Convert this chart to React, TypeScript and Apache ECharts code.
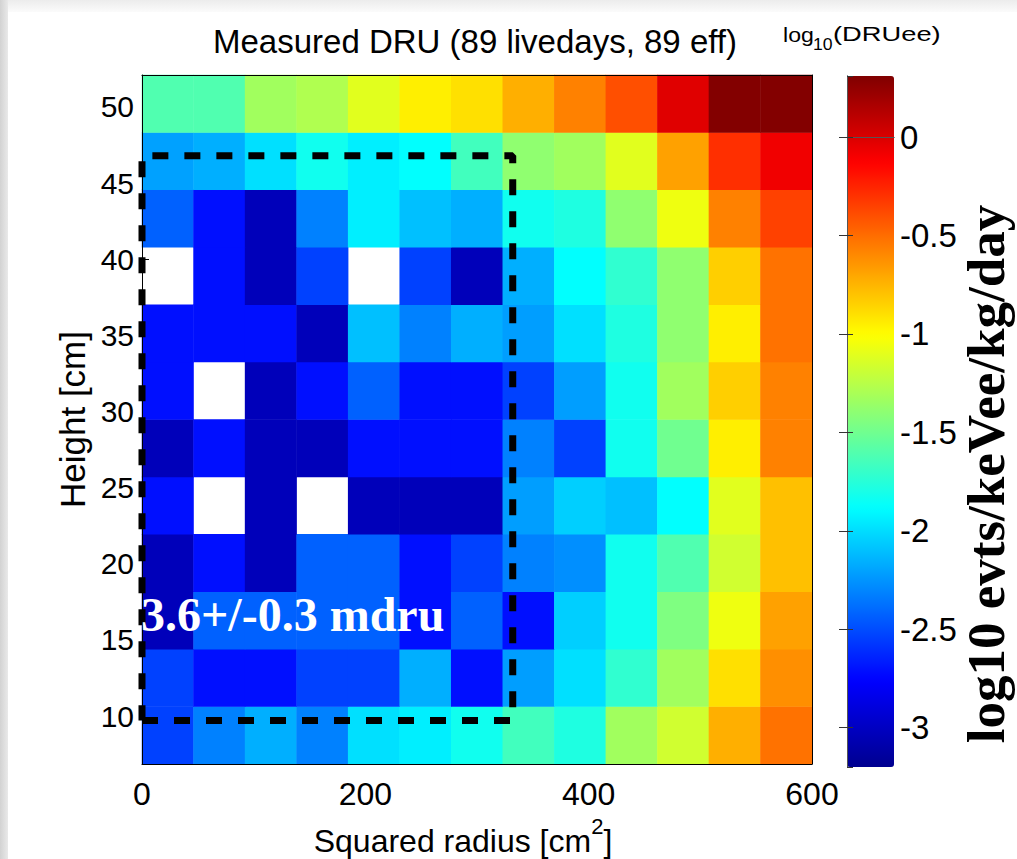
import React, { useEffect, useRef } from "react";
import * as echarts from "echarts";

// bin centres (squared radius, cm^2) and heights (cm)
const radiusBins = ["23", "69", "115", "162", "208", "254", "300", "346", "392", "438", "485", "531", "577"];
const heightBins = ["8.7", "12.5", "16.3", "20.0", "23.8", "27.6", "31.4", "35.1", "38.9", "42.7", "46.5", "50.2"];

// log10 DRU per bin, one array per height row (null = no events)
const z50_2 = [-1.61, -1.61, -1.33, -1.28, -1.11, -0.95, -0.9, -0.73, -0.57, -0.4, -0.02, 0.3, 0.3];
const z46_5 = [-2.21, -2.16, -1.99, -1.83, -1.94, -1.88, -1.66, -1.39, -1.33, -1.11, -0.68, -0.29, -0.08];
const z42_7 = [-2.43, -2.71, -3.03, -2.32, -1.94, -2.1, -2.16, -1.83, -1.78, -1.39, -1.06, -0.57, -0.35];
const z38_9 = [null, -2.71, -3.03, -2.54, null, -2.54, -3.03, -2.16, -1.88, -1.72, -1.39, -0.84, -0.52];
const z35_1 = [-2.71, -2.71, -2.71, -3.03, -2.1, -2.32, -2.16, -2.22, -1.99, -1.78, -1.39, -0.95, -0.52];
const z31_4 = [-2.71, null, -3.03, -2.71, -2.43, -2.71, -2.71, -2.54, -2.22, -1.83, -1.33, -0.84, -0.57];
const z27_6 = [-3.03, -2.71, -3.03, -3.03, -2.71, -2.71, -2.71, -2.32, -2.54, -1.83, -1.5, -0.95, -0.57];
const z23_8 = [-2.71, null, -3.03, null, -3.03, -3.03, -3.03, -2.22, -2.05, -2.1, -1.88, -1.11, -0.79];
const z20_0 = [-3.03, -2.71, -3.03, -2.43, -2.43, -2.71, -2.54, -2.32, -2.27, -1.83, -1.61, -1.17, -0.79];
const z16_3 = [-3.03, -2.43, -2.43, -2.43, -2.43, -2.71, -2.43, -2.71, -2.05, -1.83, -1.45, -1.06, -0.68];
const z12_5 = [-2.54, -2.71, -2.71, -2.54, -2.54, -2.16, -2.71, -2.22, -1.99, -1.72, -1.33, -0.9, -0.62];
const z8_7 = [-2.54, -2.32, -2.16, -2.32, -1.99, -1.94, -1.83, -1.66, -1.78, -1.33, -1.17, -0.73, -0.52];

// rows from bottom to top, matching heightBins
const rows = [z8_7, z12_5, z16_3, z20_0, z23_8, z27_6, z31_4, z35_1, z38_9, z42_7, z46_5, z50_2];

// fiducial cut box (squared radius, height)
const cutR2 = [0, 332];
const cutZ = [9.7, 46.8];

// axis ranges
const r2Range = [0, 600];
const zRange = [6.85, 52.1];
const cbarRange = [-3.2, 0.31];

const jet = ["#00008f", "#0000ff", "#0080ff", "#00ffff", "#80ff80", "#ffff00", "#ff8000", "#ff0000", "#800000"];

const SANS = '"Liberation Sans", Arial, Helvetica, sans-serif';
const SERIF = '"Liberation Serif", "Times New Roman", serif';

export default function App() {
  const ref = useRef<HTMLDivElement>(null);

  useEffect(() => {
    if (!ref.current) return;
    const chart = echarts.init(ref.current, undefined, { renderer: "svg" });

    const heatData: any[] = [];
    rows.forEach((row, yi) => {
      row.forEach((v, xi) => {
        heatData.push([xi, yi, v === null ? "-" : v]);
      });
    });

    const box = [
      [cutR2[0], cutZ[0]],
      [cutR2[1], cutZ[0]],
      [cutR2[1], cutZ[1]],
      [cutR2[0], cutZ[1]],
      [cutR2[0], cutZ[0]],
    ];

    const lineOnly = (extra: any) => ({
      type: "value",
      axisLine: { show: true, lineStyle: { color: "#000", width: 1 } },
      axisTick: { show: false },
      axisLabel: { show: false },
      splitLine: { show: false },
      z: 10,
      ...extra,
    });

    const option: any = {
      animation: false,
      backgroundColor: "transparent",
      textStyle: { fontFamily: SANS },
      grid: [
        { left: 142, top: 75, width: 670, height: 689, outerBoundsMode: "none", containLabel: false },
        { left: 847, top: 76, width: 47, height: 691, outerBoundsMode: "none", containLabel: false },
      ],
      xAxis: [
        { type: "category", gridIndex: 0, data: radiusBins, show: false },
        {
          type: "value",
          gridIndex: 0,
          min: r2Range[0],
          max: r2Range[1],
          interval: 200,
          position: "bottom",
          axisLine: { show: true, lineStyle: { color: "#000" } },
          axisTick: { show: false },
          splitLine: { show: false },
          axisLabel: { fontSize: 32, color: "#000", margin: 14, fontFamily: SANS },
          z: 10,
        },
        lineOnly({ gridIndex: 0, position: "top", min: r2Range[0], max: r2Range[1] }),
        lineOnly({ gridIndex: 1, position: "bottom", min: 0, max: 1, axisLine: { show: true, lineStyle: { color: "#555" } } }),
        lineOnly({ gridIndex: 1, position: "top", min: 0, max: 1, axisLine: { show: true, lineStyle: { color: "#555" } } }),
      ],
      yAxis: [
        { type: "category", gridIndex: 0, data: heightBins, show: false },
        {
          type: "value",
          gridIndex: 0,
          min: zRange[0],
          max: zRange[1],
          minInterval: 5,
          maxInterval: 5,
          position: "left",
          axisLine: { show: false },
          axisTick: { show: true, inside: true, length: 7, lineStyle: { color: "#000" } },
          splitLine: { show: false },
          axisLabel: { fontSize: 30, color: "#000", margin: 8, fontFamily: SANS, showMinLabel: false, showMaxLabel: false },
          name: "Height [cm]",
          nameLocation: "middle",
          nameRotate: 90,
          nameGap: 52,
          nameTextStyle: { fontSize: 35, color: "#000", fontFamily: SANS },
        },
        lineOnly({ gridIndex: 0, position: "left", min: zRange[0], max: zRange[1] }),
        lineOnly({ gridIndex: 0, position: "right", min: zRange[0], max: zRange[1] }),
        {
          type: "value",
          gridIndex: 1,
          position: "left",
          min: cbarRange[0],
          max: cbarRange[1],
          minInterval: 0.5,
          maxInterval: 0.5,
          axisLine: { show: true, lineStyle: { color: "#555" } },
          axisTick: { show: true, inside: true, length: 6, lineStyle: { color: "#333" } },
          axisLabel: { show: false },
          splitLine: { show: false },
          z: 10,
        },
        {
          type: "value",
          gridIndex: 1,
          position: "right",
          min: cbarRange[0],
          max: cbarRange[1],
          minInterval: 0.5,
          maxInterval: 0.5,
          axisLine: { show: true, lineStyle: { color: "#555" } },
          axisTick: { show: true, inside: true, length: 8, lineStyle: { color: "#333" } },
          axisLabel: { fontSize: 33, color: "#000", margin: 6, fontFamily: SANS, showMinLabel: false, showMaxLabel: false },
          splitLine: { show: false },
          z: 10,
        },
      ],
      visualMap: {
        type: "continuous",
        seriesIndex: 0,
        min: cbarRange[0],
        max: cbarRange[1],
        orient: "vertical",
        left: 847,
        top: 76,
        itemWidth: 47,
        itemHeight: 691,
        padding: 0,
        calculable: false,
        hoverLink: false,
        inRange: { color: jet },
      },
      series: [
        {
          type: "heatmap",
          xAxisIndex: 0,
          yAxisIndex: 0,
          data: heatData,
          progressive: 0,
          itemStyle: { borderWidth: 0 },
          emphasis: { disabled: true },
          silent: true,
        },
        {
          type: "line",
          xAxisIndex: 1,
          yAxisIndex: 1,
          data: box,
          symbol: "none",
          clip: false,
          silent: true,
          z: 5,
          lineStyle: { color: "#000", width: 7, type: [16, 16], cap: "butt" },
        },
      ],
      graphic: [
        {
          type: "text",
          z: 100,
          style: {
            text: "Measured DRU (89 livedays, 89 eff)",
            x: 475,
            y: 41,
            align: "center",
            verticalAlign: "middle",
            font: `33px ${SANS}`,
            fill: "#000",
          },
        },
        {
          type: "text",
          z: 100,
          style: {
            text: "{a|Squared radius [cm}{s|2}{a|]}",
            x: 463,
            y: 836,
            align: "center",
            verticalAlign: "middle",
            rich: {
              a: { fontSize: 32, fill: "#000", fontFamily: SANS, lineHeight: 42, verticalAlign: "bottom" },
              s: { fontSize: 22, fill: "#000", fontFamily: SANS, lineHeight: 18, verticalAlign: "top" },
            },
          },
        },
        {
          type: "text",
          z: 100,
          x: 783,
          y: 35,
          scaleX: 1.1,
          style: { text: "log", x: 0, y: 0, verticalAlign: "middle", font: `21px ${SANS}`, fill: "#000" },
        },
        {
          type: "text",
          z: 100,
          x: 813,
          y: 45,
          scaleX: 1.1,
          style: { text: "10", x: 0, y: 0, verticalAlign: "middle", font: `16px ${SANS}`, fill: "#000" },
        },
        {
          type: "text",
          z: 100,
          x: 833,
          y: 34,
          scaleX: 1.3,
          style: { text: "(DRUee)", x: 0, y: 0, verticalAlign: "middle", font: `21px ${SANS}`, fill: "#000" },
        },
        {
          type: "text",
          z: 100,
          style: {
            text: "3.6+/-0.3 mdru",
            x: 141,
            y: 614,
            verticalAlign: "middle",
            font: `bold 48px ${SERIF}`,
            fill: "#fff",
          },
        },
        {
          type: "text",
          z: 100,
          x: 986,
          y: 474,
          rotation: Math.PI / 2,
          style: {
            text: "log10 evts/keVee/kg/day",
            x: 0,
            y: 0,
            align: "center",
            verticalAlign: "middle",
            font: `bold 53px ${SERIF}`,
            fill: "#000",
          },
        },
      ],
    };

    chart.setOption(option);
    return () => chart.dispose();
  }, []);

  return (
    <div
      style={{
        position: "fixed",
        left: 0,
        top: 0,
        width: 1017,
        height: 859,
        background:
          "linear-gradient(to right, #d2d2d2 0px, #e9e9e9 8px, rgba(255,255,255,0) 8px), linear-gradient(to bottom, #ececec 0px, #fbfbfb 12px, #ffffff 12px)",
      }}
    >
      <div ref={ref} style={{ width: 1017, height: 859 }} />
    </div>
  );
}
